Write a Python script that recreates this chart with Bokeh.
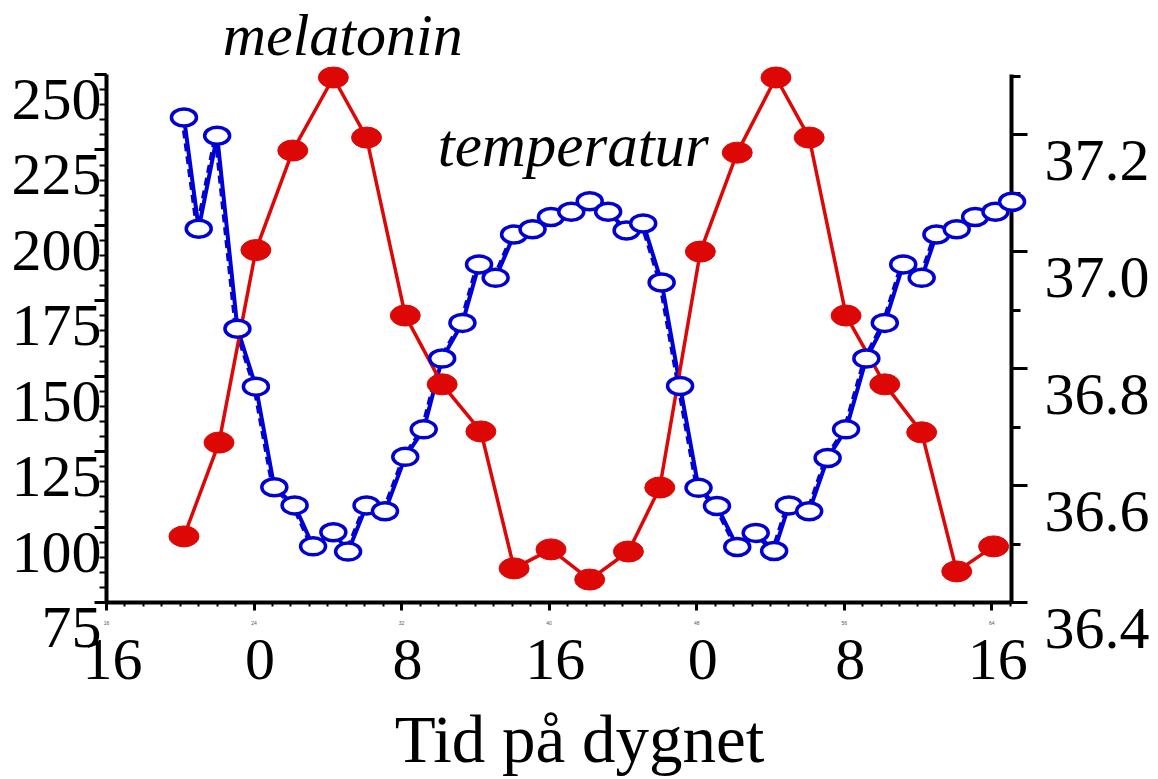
from bokeh.plotting import figure
from bokeh.models import (Range1d, LinearAxis, FixedTicker, ColumnDataSource,
                          CustomJSTickFormatter)
from bokeh.core.properties import value
from bokeh.transform import dodge
from bokeh.embed import file_html
from bokeh.resources import INLINE

# ---- data ----
mel_hours = [20.2, 22.1, 24.1, 26.1, 28.3, 30.1, 32.2, 34.2, 36.3, 38.1, 40.1, 42.2,
             44.3, 46.0, 48.2, 50.2, 52.3, 54.1, 56.1, 58.2, 60.2, 62.1, 64.1]
melatonin = [96.9, 128.0, 191.8, 224.8, 249.0, 229.1, 170.1, 147.3, 131.7, 86.3, 92.6, 82.6,
             91.9, 113.1, 191.3, 224.1, 249.0, 229.1, 170.1, 147.3, 131.4, 85.3, 93.6]

temp_hours = [20.2, 21.0, 22.0, 23.1, 24.1, 25.1, 26.2, 27.2, 28.3, 29.1,
              30.1, 31.1, 32.2, 33.2, 34.2, 35.3, 36.2, 37.1, 38.1, 39.1,
              40.1, 41.2, 42.2, 43.2, 44.2, 45.1, 46.1, 47.1, 48.1, 49.1,
              50.2, 51.2, 52.2, 53.0, 54.1, 55.1, 56.1, 57.2, 58.2, 59.2,
              60.2, 61.0, 62.1, 63.1, 64.2, 65.1]
temperature = [37.229, 37.039, 37.198, 36.868, 36.769, 36.597, 36.566, 36.496, 36.520, 36.487,
               36.566, 36.556, 36.649, 36.696, 36.817, 36.878, 36.978, 36.955, 37.029, 37.038,
               37.059, 37.068, 37.086, 37.068, 37.036, 37.048, 36.947, 36.770, 36.596, 36.565,
               36.495, 36.519, 36.488, 36.566, 36.556, 36.647, 36.696, 36.817, 36.878, 36.978,
               36.955, 37.029, 37.038, 37.059, 37.068, 37.085]

x_ticks = [16, 24, 32, 40, 48, 56, 64]
x_tick_labels = ["16", "0", "8", "16", "0", "8", "16"]
left_ticks = [75, 100, 125, 150, 175, 200, 225, 250]
left_tick_labels = ["75", "100", "125", "150", "175", "200", "225", "250"]
right_ticks = [36.4, 36.6, 36.8, 37.0, 37.2]
right_tick_labels = ["36.4", "36.6", "36.8", "37.0", "37.2"]
right_minor = [36.4, 36.5, 36.6, 36.7, 36.8, 36.9, 37.0, 37.1, 37.2, 37.3]

x_title = "Tid på dygnet"
mel_label = "melatonin"
temp_label = "temperatur"

RED = "#dd0806"
BLUE = "#0000d4"
FONT = "Liberation Serif"
X0, X1 = 16, 65.07
Y0, Y1 = 75, 250

p = figure(frame_width=905, frame_height=528,
           x_range=Range1d(X0, X1), y_range=Range1d(Y0, Y1),
           output_backend="svg", toolbar_location=None,
           min_border_left=106, min_border_right=145,
           min_border_top=74, min_border_bottom=175,
           background_fill_color="white", border_fill_color="white")
p.extra_y_ranges = {"temp": Range1d(36.4, 37.3026)}
p.grid.visible = False
p.outline_line_color = None

blank = CustomJSTickFormatter(code="return ''")

# bottom axis
xa = p.xaxis[0]
xa.ticker = FixedTicker(ticks=x_ticks, minor_ticks=list(range(16, 66)))
xa.axis_line_width = 4
xa.major_tick_line_width = 3
xa.major_tick_out = 8
xa.major_tick_in = 0
xa.minor_tick_line_width = 2
xa.minor_tick_out = 4
xa.minor_tick_in = 0
xa.major_label_text_font_size = "5px"
xa.major_label_text_color = "#555555"
xa.major_label_standoff = 10

# left axis
ya = p.yaxis[0]
ya.ticker = FixedTicker(ticks=left_ticks, minor_ticks=list(range(75, 251, 5)))
ya.axis_line_width = 4
ya.major_tick_line_width = 3
ya.major_tick_out = 12
ya.major_tick_in = 0
ya.minor_tick_line_width = 2
ya.minor_tick_out = 7
ya.minor_tick_in = 0
ya.formatter = blank

# right axis
ra = LinearAxis(y_range_name="temp",
                ticker=FixedTicker(ticks=right_ticks, minor_ticks=right_minor))
ra.axis_line_width = 4
ra.major_tick_line_width = 3
ra.major_tick_out = 16
ra.major_tick_in = 0
ra.minor_tick_line_width = 3
ra.minor_tick_out = 9
ra.minor_tick_in = 0
ra.formatter = blank
p.add_layout(ra, "right")

# data sources
mel_src = ColumnDataSource(dict(h=mel_hours, v=melatonin))
tmp_src = ColumnDataSource(dict(h=temp_hours, t=temperature))

# temperature (dashed shadow + solid line)
p.line(x=dodge("h", -0.12, range=p.x_range), y="t", source=tmp_src, y_range_name="temp",
       line_color=BLUE, line_width=3, line_dash="8 5", level="overlay")
p.line(x="h", y="t", source=tmp_src, y_range_name="temp",
       line_color=BLUE, line_width=4, level="overlay")

# melatonin
p.line(x="h", y="v", source=mel_src, line_color=RED, line_width=3.5, level="overlay")
p.ellipse(x="h", y="v", source=mel_src, width=30, height=21,
          width_units="screen", height_units="screen",
          fill_color=RED, line_color=RED, level="overlay")

# temperature open markers
p.ellipse(x="h", y="t", source=tmp_src, y_range_name="temp", width=25, height=17,
          width_units="screen", height_units="screen",
          fill_color="white", line_color=BLUE, line_width=3.5, level="overlay")


def add_text(xs, ys, texts, size, align, dx=0, dy=0, style="normal", y_range_name=None):
    kw = {}
    if y_range_name:
        kw["y_range_name"] = y_range_name
    p.text(x=xs, y=ys, text=texts, x_offset=dx, y_offset=dy,
           text_align=align, text_baseline="alphabetic",
           text_font=value(FONT), text_font_size=size, text_font_style=style,
           text_color="black", level="overlay", **kw)


# tick labels (drawn below their ticks, as in the reference)
add_text([X0] * len(left_ticks), left_ticks, left_tick_labels, "60px", "right", dx=-5, dy=25)
add_text([X1] * len(right_ticks), right_ticks, right_tick_labels, "60px", "left",
         dx=33, dy=26, y_range_name="temp")
add_text(x_ticks, [Y0] * len(x_ticks), x_tick_labels, "60px", "center", dx=6, dy=57)

# axis title
add_text([41.65], [Y0], [x_title], "67px", "center", dy=136)

# series labels
add_text([22.3], [257.6], [mel_label], "60px", "left", dy=-17, style="italic")
add_text([33.96], [219.5], [temp_label], "61px", "left", dy=-21, style="italic")

open("out.html", "w").write(file_html(p, INLINE))
